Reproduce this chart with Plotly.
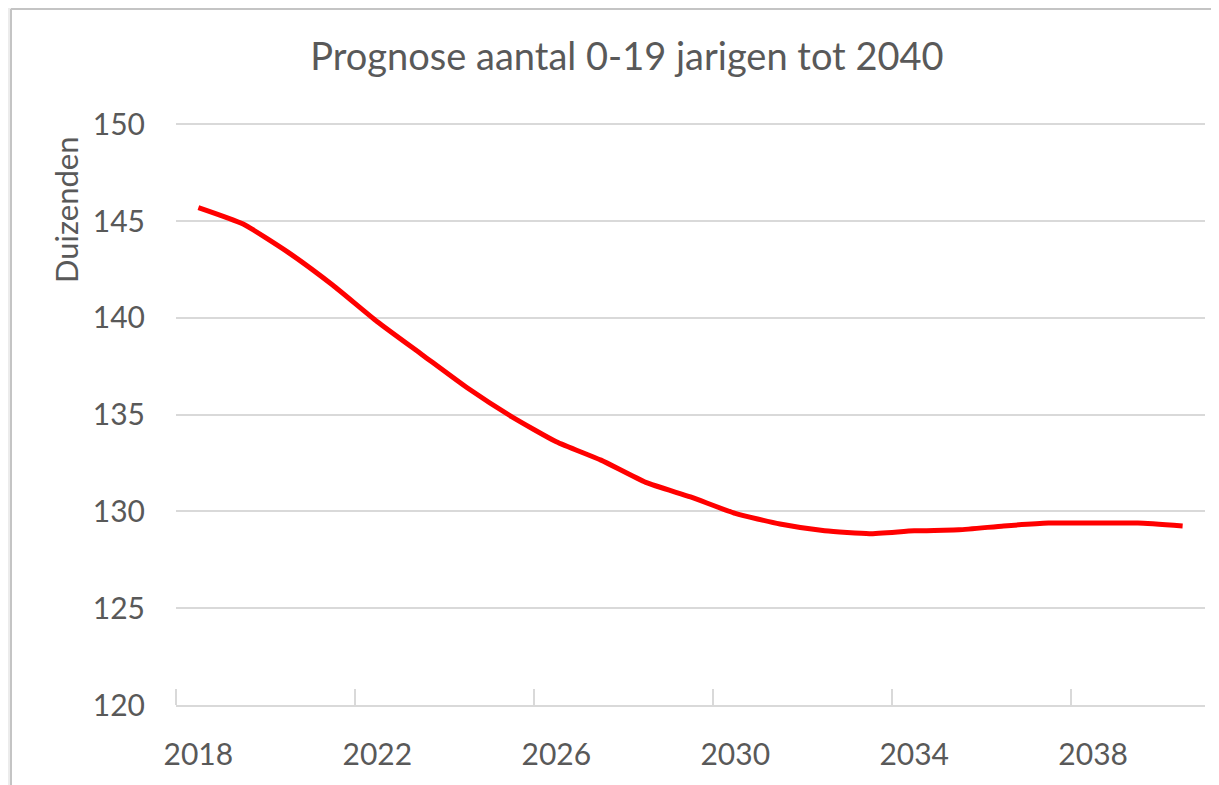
import plotly.graph_objects as go

years = list(range(2018, 2041))
values = [145.7, 144.85, 143.4, 141.7, 139.8, 138.1, 136.4, 134.9, 133.6, 132.65,
          131.5, 130.75, 129.9, 129.35, 129.0, 128.85, 129.0, 129.05, 129.25, 129.4,
          129.4, 129.4, 129.25]
label_years = [2018, 2022, 2026, 2030, 2034, 2038]
y_ticks = [120, 125, 130, 135, 140, 145, 150]

title_text = "Prognose aantal 0-19 jarigen tot 2040"
y_title = "Duizenden"

W, H = 1219, 785
OFF = 8  # page body margin
# plot area in page pixels: x 176..1205, y 122..705
L = 176 - OFF
T = 122 - OFF
R = W - (1205 - OFF)
B = H - (705 - OFF)
pw = W - L - R
ph = H - T - B

def px_x(p):
    return (p - OFF - L) / pw

def px_y(p):
    return (H - B - (p - OFF)) / ph

fig = go.Figure()
fig.add_trace(go.Scatter(
    x=years, y=values, mode="lines",
    line=dict(color="#ff0000", width=5, shape="spline", smoothing=0.5),
    hoverinfo="x+y", showlegend=False,
))

font_family = "Lato, 'Open Sans', sans-serif"
grey = "#595959"

fig.update_layout(
    width=W, height=H,
    margin=dict(l=L, r=R, t=T, b=B, autoexpand=False),
    paper_bgcolor="white", plot_bgcolor="white",
    title=dict(text=title_text, x=px_x(627), xref="paper", xanchor="center",
               y=1 - (57 - OFF) / H, yanchor="middle",
               font=dict(family=font_family, size=38, color=grey)),
    xaxis=dict(
        range=[min(years) - 0.5, max(years) + 0.5],
        tickmode="array", tickvals=label_years, ticktext=[str(v) for v in label_years],
        ticks="", showgrid=False, zeroline=False, automargin=False,
        showline=True, linecolor="#d9d9d9", linewidth=1.5,
        tickfont=dict(family=font_family, size=30, color=grey),
        ticklabelstandoff=22,
        minor=dict(tickmode="array", tickvals=[v - 0.5 for v in label_years],
                   ticks="inside", ticklen=16, tickwidth=1.5, tickcolor="#d9d9d9",
                   showgrid=False),
    ),
    yaxis=dict(
        range=[min(y_ticks), max(y_ticks) + 0.12],
        tickmode="array", tickvals=y_ticks, ticktext=[str(v) for v in y_ticks],
        showgrid=True, gridcolor="#d9d9d9", gridwidth=1.5, zeroline=False,
        showline=False, ticks="", automargin=False,
        tickfont=dict(family=font_family, size=30, color=grey),
        ticklabelstandoff=30,
    ),
    annotations=[
        dict(text=y_title, xref="paper", yref="paper", x=px_x(66), y=px_y(210),
             xanchor="center", yanchor="middle", textangle=-90, showarrow=False,
             font=dict(family=font_family, size=31, color=grey)),
    ],
    shapes=[
        dict(type="rect", xref="paper", yref="paper",
             x0=px_x(OFF), x1=px_x(11), y0=px_y(H + OFF), y1=px_y(OFF),
             fillcolor="#ececec", line=dict(width=0), layer="below"),
        dict(type="line", xref="paper", yref="paper",
             x0=px_x(11), x1=px_x(11), y0=px_y(H + OFF), y1=px_y(OFF + 1),
             line=dict(color="#c4c4c4", width=2)),
        dict(type="line", xref="paper", yref="paper",
             x0=px_x(11), x1=px_x(W + OFF), y0=px_y(OFF + 1), y1=px_y(OFF + 1),
             line=dict(color="#c4c4c4", width=2)),
    ],
)

fig.write_html("out.html")
